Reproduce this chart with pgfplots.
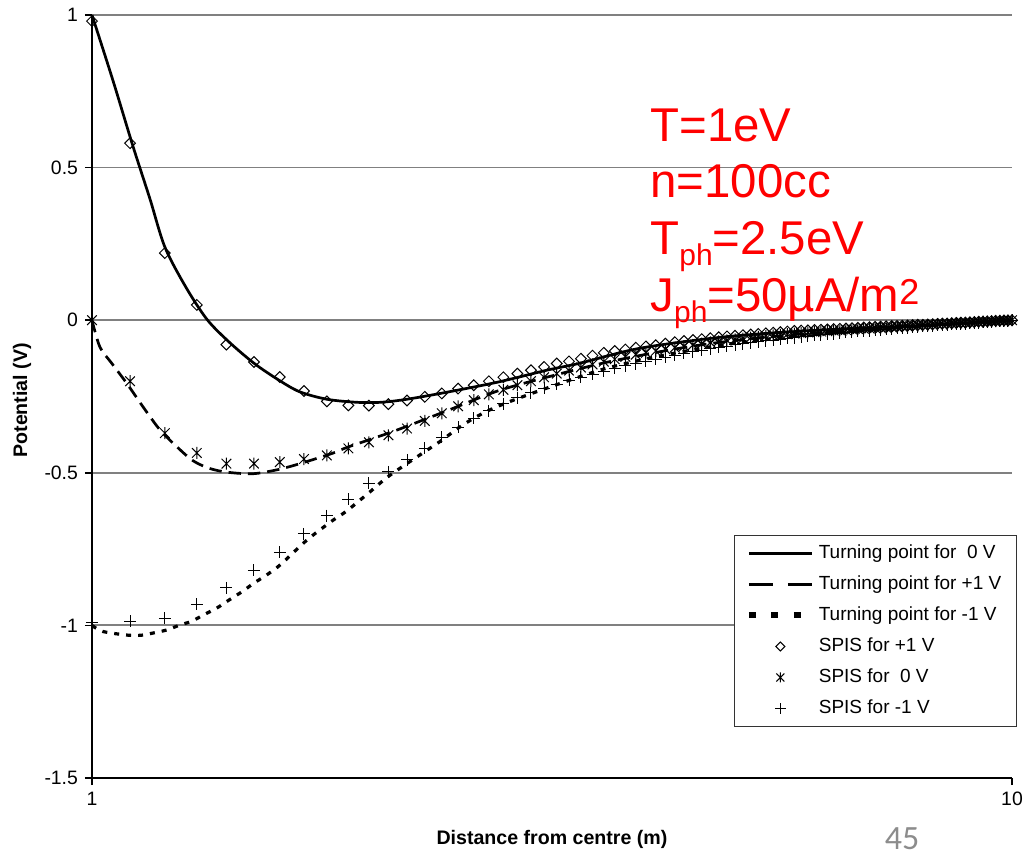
\documentclass[border=0pt]{standalone}
\usepackage{fontspec}
\setmainfont{Liberation Sans}
\newfontfamily\carlito{Carlito}
\usepackage{pgfplots}
\pgfplotsset{compat=1.18}

\pgfdeclareplotmark{xstar}{%
  \pgfpathmoveto{\pgfqpoint{-0.8\pgfplotmarksize}{-0.8\pgfplotmarksize}}%
  \pgfpathlineto{\pgfqpoint{0.8\pgfplotmarksize}{0.8\pgfplotmarksize}}%
  \pgfpathmoveto{\pgfqpoint{-0.8\pgfplotmarksize}{0.8\pgfplotmarksize}}%
  \pgfpathlineto{\pgfqpoint{0.8\pgfplotmarksize}{-0.8\pgfplotmarksize}}%
  \pgfpathmoveto{\pgfqpoint{0pt}{-\pgfplotmarksize}}%
  \pgfpathlineto{\pgfqpoint{0pt}{\pgfplotmarksize}}%
  \pgfusepathqstroke}

\pgfplotsset{
  linelegend/.style={legend image code/.code={\draw[##1] (0pt,0pt) -- (31.5pt,0pt);}},
  marklegend/.style={legend image code/.code={\draw[##1] plot coordinates {(15.75pt,0pt)};}},
}

\begin{document}
\begin{tikzpicture}
\useasboundingbox (-46pt,-38.5pt) rectangle (472pt,389pt);
\begin{axis}[
  at={(0pt,0pt)}, anchor=south west,
  scale only axis, width=460pt, height=381.5pt,
  xmode=log, xmin=1, xmax=10, ymin=-1.5, ymax=1,
  xtick={1,10}, xticklabels={1,10}, xminorticks=false,
  ytick={-1.5,-1,-0.5,0,0.5,1}, yticklabels={-1.5,-1,-0.5,0,0.5,1},
  axis lines=left, axis line style={-, line width=0.8pt, black},
  tick align=outside, major tick length=3.5pt, tick style={black, line width=0.8pt},
  ymajorgrids, grid style={line width=0.9pt, black!50},
  tick label style={font=\fontsize{9.7}{11}\selectfont},
  xlabel={Distance from centre (m)}, ylabel={Potential (V)},
  label style={font=\bfseries\fontsize{9.8}{11}\selectfont},
  xlabel style={at={(axis description cs:0.5,-0.0878)}, anchor=base},
  ylabel style={at={(axis description cs:-0.0761,0.495)}, anchor=center},
  clip=false,
  legend style={at={(axis description cs:1.0054,0.3185)}, anchor=north east,
    draw=black!80, line width=0.6pt, inner xsep=5.5pt, inner ysep=1.2pt,
    font=\fontsize{9.5}{11}\selectfont,
    nodes={text height=7pt, text depth=2.3pt, inner ysep=3.1pt, inner xsep=2pt},
    column sep=0pt, row sep=0pt, fill=white},
  legend cell align=left,
]
% Turning point curves
\addplot[black, line width=1.35pt, smooth, forget plot] coordinates {
(1.000,1.000) (1.054,0.785) (1.108,0.570) (1.156,0.398) (1.200,0.240) (1.265,0.108)
(1.334,0.002) (1.410,-0.072) (1.500,-0.141) (1.590,-0.193) (1.680,-0.234) (1.800,-0.259)
(1.940,-0.269) (2.060,-0.269) (2.200,-0.259) (2.430,-0.236) (2.760,-0.203) (3.120,-0.164)
(3.390,-0.141) (3.940,-0.092) (4.820,-0.056) (5.890,-0.036) (7.650,-0.020) (10.00,0.000)
};
\addplot[black, line width=1.35pt, dash pattern=on 6.2pt off 3.5pt, smooth, forget plot] coordinates {
(1.000,0.000) (1.020,-0.088) (1.050,-0.140) (1.091,-0.207) (1.140,-0.290) (1.186,-0.360)
(1.240,-0.418) (1.287,-0.460) (1.340,-0.485) (1.402,-0.498) (1.496,-0.503) (1.590,-0.490)
(1.683,-0.470) (1.826,-0.436) (1.892,-0.417) (2.000,-0.392) (2.145,-0.360) (2.430,-0.297)
(2.760,-0.232) (3.120,-0.187) (3.600,-0.140) (4.200,-0.100) (4.800,-0.073) (5.900,-0.045)
(7.650,-0.024) (10.00,0.000)
};
\addplot[black, line width=1.6pt, dash pattern=on 2.5pt off 3.5pt, smooth, forget plot] coordinates {
(1.000,-1.000) (1.028,-1.020) (1.094,-1.032) (1.133,-1.032) (1.165,-1.025) (1.206,-1.015)
(1.243,-1.000) (1.284,-0.986) (1.327,-0.963) (1.367,-0.943) (1.409,-0.917) (1.455,-0.890)
(1.499,-0.862) (1.553,-0.832) (1.604,-0.800) (1.713,-0.720) (1.829,-0.655) (1.892,-0.625)
(2.004,-0.563) (2.108,-0.508) (2.313,-0.426) (2.401,-0.393) (2.499,-0.354) (2.594,-0.323)
(2.693,-0.297) (2.810,-0.273) (2.993,-0.242) (3.280,-0.200) (3.600,-0.160) (4.000,-0.127)
(4.500,-0.097) (5.000,-0.075) (6.000,-0.047) (7.000,-0.030) (8.000,-0.018) (9.000,-0.008)
(10.00,0.000)
};
% SPIS +1 V (diamonds)
\addplot[only marks, mark=square, mark size=1.9pt, mark options={rotate=45, line width=0.5pt, black, fill=none}, forget plot] coordinates {
(1.0,0.98) (1.1,0.58) (1.2,0.22) (1.3,0.05) (1.4,-0.08) (1.5,-0.137) (1.6,-0.186) (1.7,-0.232)
(1.8,-0.266) (1.9,-0.279) (2.0,-0.280) (2.1,-0.275) (2.2,-0.263) (2.3,-0.251) (2.4,-0.240)
(2.5,-0.224) (2.6,-0.213) (2.7,-0.200) (2.8,-0.187) (2.9,-0.175) (3.0,-0.164) (3.1,-0.153)
(3.2,-0.142) (3.3,-0.135) (3.4,-0.126) (3.5,-0.116) (3.6,-0.107) (3.7,-0.101) (3.8,-0.096)
(3.9,-0.090) (4.0,-0.086) (4.1,-0.082) (4.2,-0.077) (4.3,-0.072) (4.4,-0.068) (4.5,-0.065)
(4.6,-0.062) (4.7,-0.059) (4.8,-0.056) (4.9,-0.053) (5.0,-0.051) (5.1,-0.049) (5.2,-0.047)
(5.3,-0.045) (5.4,-0.043) (5.5,-0.041) (5.6,-0.039) (5.7,-0.037) (5.8,-0.035) (5.9,-0.034)
(6.0,-0.033) (6.1,-0.032) (6.2,-0.031) (6.3,-0.030) (6.4,-0.029) (6.5,-0.028) (6.6,-0.027)
(6.7,-0.026) (6.8,-0.025) (6.9,-0.024) (7.0,-0.023) (7.1,-0.022) (7.2,-0.021) (7.3,-0.020)
(7.4,-0.019) (7.5,-0.019) (7.6,-0.018) (7.7,-0.017) (7.8,-0.016) (7.9,-0.015) (8.0,-0.015)
(8.1,-0.014) (8.2,-0.013) (8.3,-0.012) (8.4,-0.011) (8.5,-0.011) (8.6,-0.010) (8.7,-0.009)
(8.8,-0.008) (8.9,-0.008) (9.0,-0.007) (9.1,-0.006) (9.2,-0.005) (9.3,-0.005) (9.4,-0.004)
(9.5,-0.003) (9.6,-0.002) (9.7,-0.002) (9.8,-0.001) (9.9,-0.001) (10.0,0.000)
};
% SPIS 0 V (stars)
\addplot[only marks, mark=xstar, mark size=3pt, mark options={line width=0.5pt, black}, forget plot] coordinates {
(1.0,0.000) (1.1,-0.200) (1.2,-0.370) (1.3,-0.435) (1.4,-0.470) (1.5,-0.470) (1.6,-0.465)
(1.7,-0.455) (1.8,-0.443) (1.9,-0.420) (2.0,-0.400) (2.1,-0.377) (2.2,-0.355) (2.3,-0.330)
(2.4,-0.305) (2.5,-0.282) (2.6,-0.262) (2.7,-0.243) (2.8,-0.228) (2.9,-0.213) (3.0,-0.200)
(3.1,-0.187) (3.2,-0.175) (3.3,-0.165) (3.4,-0.155) (3.5,-0.145) (3.6,-0.136) (3.7,-0.128)
(3.8,-0.120) (3.9,-0.113) (4.0,-0.107) (4.1,-0.101) (4.2,-0.095) (4.3,-0.090) (4.4,-0.085)
(4.5,-0.081) (4.6,-0.077) (4.7,-0.073) (4.8,-0.069) (4.9,-0.066) (5.0,-0.063) (5.1,-0.060)
(5.2,-0.057) (5.3,-0.055) (5.4,-0.052) (5.5,-0.050) (5.6,-0.048) (5.7,-0.046) (5.8,-0.044)
(5.9,-0.042) (6.0,-0.040) (6.1,-0.039) (6.2,-0.037) (6.3,-0.036) (6.4,-0.034) (6.5,-0.033)
(6.6,-0.032) (6.7,-0.030) (6.8,-0.029) (6.9,-0.028) (7.0,-0.027) (7.1,-0.026) (7.2,-0.025)
(7.3,-0.024) (7.4,-0.023) (7.5,-0.022) (7.6,-0.021) (7.7,-0.020) (7.8,-0.019) (7.9,-0.018)
(8.0,-0.017) (8.1,-0.016) (8.2,-0.015) (8.3,-0.014) (8.4,-0.013) (8.5,-0.012) (8.6,-0.011)
(8.7,-0.010) (8.8,-0.010) (8.9,-0.009) (9.0,-0.008) (9.1,-0.007) (9.2,-0.006) (9.3,-0.005)
(9.4,-0.005) (9.5,-0.004) (9.6,-0.003) (9.7,-0.002) (9.8,-0.002) (9.9,-0.001) (10.0,0.000)
};
% SPIS -1 V (plus)
\addplot[only marks, mark=+, mark size=3pt, mark options={line width=0.5pt, black}, forget plot] coordinates {
(1.0,-0.990) (1.1,-0.986) (1.2,-0.976) (1.3,-0.930) (1.4,-0.877) (1.5,-0.820) (1.6,-0.760)
(1.7,-0.700) (1.8,-0.640) (1.9,-0.587) (2.0,-0.535) (2.1,-0.497) (2.2,-0.458) (2.3,-0.420)
(2.4,-0.383) (2.5,-0.350) (2.6,-0.322) (2.7,-0.297) (2.8,-0.274) (2.9,-0.254) (3.0,-0.237)
(3.1,-0.223) (3.2,-0.210) (3.3,-0.197) (3.4,-0.187) (3.5,-0.177) (3.6,-0.167) (3.7,-0.158)
(3.8,-0.150) (3.9,-0.142) (4.0,-0.135) (4.1,-0.128) (4.2,-0.121) (4.3,-0.115) (4.4,-0.109)
(4.5,-0.104) (4.6,-0.099) (4.7,-0.094) (4.8,-0.089) (4.9,-0.085) (5.0,-0.081) (5.1,-0.077)
(5.2,-0.074) (5.3,-0.071) (5.4,-0.068) (5.5,-0.065) (5.6,-0.062) (5.7,-0.059) (5.8,-0.057)
(5.9,-0.055) (6.0,-0.052) (6.1,-0.050) (6.2,-0.048) (6.3,-0.046) (6.4,-0.044) (6.5,-0.042)
(6.6,-0.040) (6.7,-0.039) (6.8,-0.037) (6.9,-0.035) (7.0,-0.034) (7.1,-0.032) (7.2,-0.031)
(7.3,-0.029) (7.4,-0.028) (7.5,-0.027) (7.6,-0.025) (7.7,-0.024) (7.8,-0.023) (7.9,-0.022)
(8.0,-0.020) (8.1,-0.019) (8.2,-0.018) (8.3,-0.017) (8.4,-0.016) (8.5,-0.015) (8.6,-0.014)
(8.7,-0.013) (8.8,-0.012) (8.9,-0.011) (9.0,-0.010) (9.1,-0.009) (9.2,-0.008) (9.3,-0.007)
(9.4,-0.006) (9.5,-0.005) (9.6,-0.004) (9.7,-0.003) (9.8,-0.002) (9.9,-0.001) (10.0,0.000)
};
% legend
\addlegendimage{linelegend, black, line width=1.5pt}
\addlegendentry{Turning point for \ 0 V}
\addlegendimage{linelegend, black, line width=1.7pt, dash pattern=on 12pt off 7.5pt}
\addlegendentry{Turning point for +1 V}
\addlegendimage{linelegend, black, line width=3pt, dash pattern=on 3.5pt off 7.75pt}
\addlegendentry{Turning point for -1 V}
\addlegendimage{marklegend, black, mark=square, mark size=1.6pt, mark options={rotate=45, line width=0.5pt, fill=none}}
\addlegendentry{SPIS for +1 V}
\addlegendimage{marklegend, black, mark=xstar, mark size=2.5pt, mark options={line width=0.5pt}}
\addlegendentry{SPIS for \ 0 V}
\addlegendimage{marklegend, black, mark=+, mark size=2.6pt, mark options={line width=0.5pt}}
\addlegendentry{SPIS for -1 V}
\end{axis}
\begin{scope}[every node/.style={anchor=base west, text=red, inner sep=0pt, font=\fontsize{23.7}{28}\selectfont}]
\node at (279pt,318pt) {T=1eV};
\node at (279pt,290pt) {n=100cc};
\node at (279pt,261.5pt) {T\raisebox{-5.5pt}{\fontsize{15}{18}\selectfont ph}=2.5eV};
\node at (279pt,233pt) {J\raisebox{-5.5pt}{\fontsize{15}{18}\selectfont ph}=50µA/m\raisebox{3.5pt}{\fontsize{18}{20}\selectfont 2}};
\end{scope}
\node[anchor=base, text=black!45, inner sep=0pt, font=\carlito\fontsize{17}{20}\selectfont] at (405pt,-35.5pt) {45};
\end{tikzpicture}
\end{document}
